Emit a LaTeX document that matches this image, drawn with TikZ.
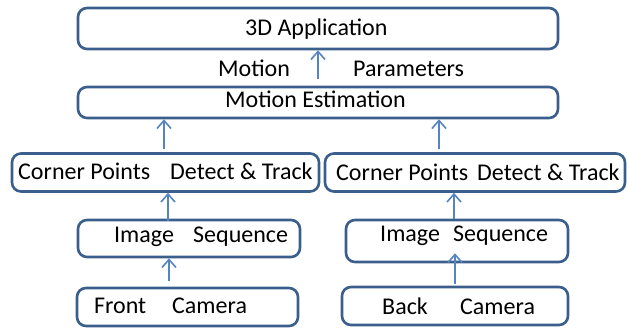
\documentclass[tikz,border=0pt]{standalone}
\usepackage{fontspec}
\setmainfont{Carlito}
\usetikzlibrary{arrows.meta}
\definecolor{boxc}{HTML}{3A5F8C}
\definecolor{arrc}{HTML}{5585C0}
\begin{document}
\begin{tikzpicture}[x=1pt,y=-1pt,
  box/.style={draw=boxc,line width=2.6pt,rounded corners=9pt,inner sep=0pt,fill=white},
  arr/.style={draw=arrc,line width=1.8pt,-{Straight Barb[length=8pt,width=14pt,line width=1.6pt]}},
  big/.style={font=\fontsize{24}{28}\selectfont,inner sep=0pt,anchor=base west}]
\useasboundingbox[fill=white] (0,0) rectangle (627,328);
% boxes
\node[box,minimum width=480pt,minimum height=41pt] (app) at (318,28.5) {};
\node[box,minimum width=480pt,minimum height=31pt] (est) at (318,102.5) {};
\node[box,minimum width=307pt,minimum height=38pt] (cornerL) at (165.5,172.5) {};
\node[box,minimum width=300pt,minimum height=38pt] (cornerR) at (475,172.5) {};
\node[box,minimum width=222pt,minimum height=37pt] (imgL) at (189,238.5) {};
\node[box,minimum width=222pt,minimum height=42pt] (imgR) at (457,241) {};
\node[box,minimum width=221pt,minimum height=38pt] (camL) at (187.5,307) {};
\node[box,minimum width=226pt,minimum height=38pt] (camR) at (455,306) {};
% texts
\node[big] (tApp) at (245,36) {3D Application};
\node[big] (tMot) at (218,77) {Motion};
\node[big] (tPar) at (353,77) {Parameters};
\node[big] (tEst) at (225,108) {Motion Estimation};
\node[big] (tCPL) at (18,180) {Corner Points};
\node[big] (tDTL) at (170,180) {Detect \& Track};
\node[big] (tCPR) at (336,181) {Corner Points};
\node[big] (tDTR) at (477,181) {Detect \& Track};
\node[big] (tImL) at (114,243) {Image};
\node[big] (tSqL) at (193,243) {Sequence};
\node[big] (tImR) at (380,242) {Image};
\node[big] (tSqR) at (453,242) {Sequence};
\node[big] (tFr) at (94,314) {Front};
\node[big] (tCaL) at (172,314) {Camera};
\node[big] (tBk) at (382,315) {Back};
\node[big] (tCaR) at (460,315) {Camera};
% arrows
\draw[arr] ([yshift=7pt]est.north) -- (app.south);
\draw[arr] ([xshift=-1.5pt,yshift=3pt]cornerL.north) -- ([xshift=-154pt]est.south);
\draw[arr] ([xshift=-36pt,yshift=3pt]cornerR.north) -- ([xshift=121pt]est.south);
\draw[arr] ([xshift=-21pt,yshift=-2pt]imgL.north) -- ([xshift=2.5pt]cornerL.south);
\draw[arr] ([xshift=-18.5pt,yshift=6pt]camL.north) -- ([xshift=-20pt]imgL.south);
\draw[arr] ([xshift=-3pt]imgR.north) -- ([xshift=-21pt]cornerR.south);
\draw[arr] ([yshift=2pt]camR.north) -- ([xshift=-2pt,yshift=10pt]imgR.south);
\end{tikzpicture}
\end{document}
